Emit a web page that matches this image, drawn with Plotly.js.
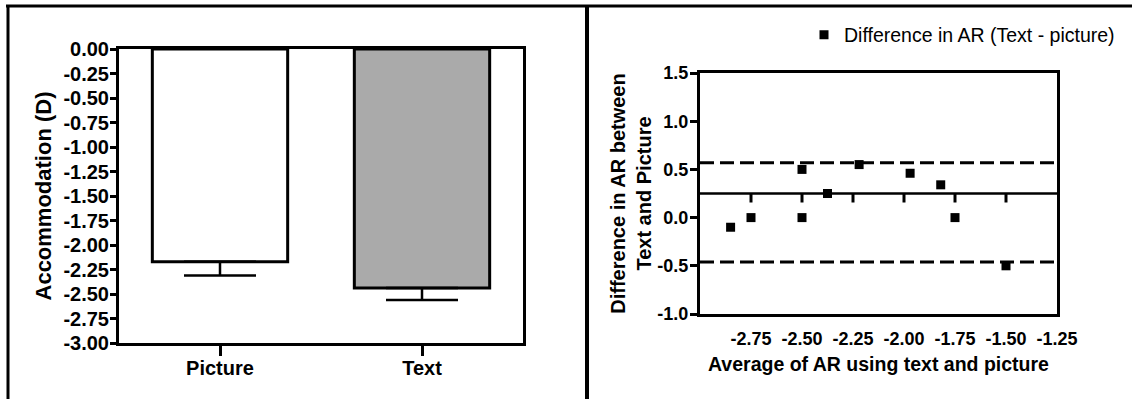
<!DOCTYPE html>
<html><head><meta charset="utf-8">
<script src="https://cdn.plot.ly/plotly-3.0.1.min.js"></script>
<style>html,body{margin:0;padding:0;background:#fff}</style>
</head><body><div id="chart" style="width:1132px;height:399px"></div>
<script>
// ---- Data: left panel (bar chart) ----
const conditions = ["Picture", "Text"];
const meanAccommodation = [-2.17, -2.44];
const semAccommodation = [0.14, 0.12];
const barColors = ["#ffffff", "#aaaaaa"];
const yTicksLeft = [0, -0.25, -0.5, -0.75, -1, -1.25, -1.5, -1.75, -2, -2.25, -2.5, -2.75, -3];

// ---- Data: right panel (Bland-Altman) ----
const avgAR = [-2.85, -2.75, -2.5, -2.5, -2.375, -2.22, -1.97, -1.82, -1.75, -1.5];
const diffAR = [-0.1, 0, 0.5, 0, 0.25, 0.55, 0.46, 0.34, 0, -0.5];
const meanDiff = 0.25;
const upperLimit = 0.57;
const lowerLimit = -0.46;
const xTicksRight = [-2.75, -2.5, -2.25, -2, -1.75, -1.5, -1.25];
const xTickMarksRight = [-2.75, -2.5, -2.25, -2, -1.75, -1.5];
const yTicksRight = [1.5, 1, 0.5, 0, -0.5, -1];

const W = 1132, H = 399;
const FONT = "Liberation Sans, Arial, sans-serif";
const px = v => v / W;
const py = v => 1 - v / H;

// right panel geometry
const y2Range = [-1, 1.5];
const y2TopPx = 73, y2BottomPx = 314;
const y2PxPerUnit = (y2BottomPx - y2TopPx) / (y2Range[1] - y2Range[0]);
const meanTickLen = 9 / y2PxPerUnit;

// tick-mark segments hanging from the mean line, built from the tick values
const tickSegX = [], tickSegY = [];
xTickMarksRight.forEach(v => {
  tickSegX.push(v, v, null);
  tickSegY.push(meanDiff, meanDiff - meanTickLen, null);
});

const traces = [
  {
    type: "bar", x: conditions, y: meanAccommodation, xaxis: "x", yaxis: "y",
    width: 0.67, showlegend: false,
    marker: { color: barColors, line: { color: "#000", width: 3 } },
    error_y: { type: "data", symmetric: false, array: [0, 0], arrayminus: semAccommodation,
               color: "#000", thickness: 2.5, width: 36 }
  },
  {
    type: "scatter", mode: "lines", x: tickSegX, y: tickSegY, connectgaps: false,
    xaxis: "x2", yaxis: "y2", showlegend: false, hoverinfo: "skip", cliponaxis: false,
    line: { color: "#000", width: 3 }
  },
  {
    type: "scatter", mode: "markers", x: avgAR, y: diffAR, xaxis: "x2", yaxis: "y2",
    name: "Difference in AR (Text - picture)",
    marker: { symbol: "square", size: 9, color: "#000" }
  }
];

const boldFont = (s) => ({ family: FONT, size: s, color: "#000", weight: "bold" });

const shapes = [
  { type: "line", xref: "x2 domain", x0: 0, x1: 1, yref: "y2", y0: meanDiff, y1: meanDiff,
    line: { color: "#000", width: 2.5 }, layer: "below" },
  { type: "line", xref: "x2 domain", x0: 0, x1: 1, yref: "y2", y0: upperLimit, y1: upperLimit,
    line: { color: "#000", width: 3, dash: "14px,6px" }, layer: "below" },
  { type: "line", xref: "x2 domain", x0: 0, x1: 1, yref: "y2", y0: lowerLimit, y1: lowerLimit,
    line: { color: "#000", width: 3, dash: "14px,6px" }, layer: "below" },
  // panel frames
  { type: "line", xref: "paper", yref: "paper", x0: px(6), x1: 1, y0: py(6), y1: py(6), line: { color: "#000", width: 3 } },
  { type: "line", xref: "paper", yref: "paper", x0: px(8), x1: px(8), y0: py(6), y1: 0, line: { color: "#000", width: 3 } },
  { type: "line", xref: "paper", yref: "paper", x0: px(587), x1: px(587), y0: py(6), y1: 0, line: { color: "#000", width: 4 } }
];

const layout = {
  width: W, height: H, autosize: false,
  margin: { l: 0, r: 0, t: 0, b: 0 },
  paper_bgcolor: "#fff", plot_bgcolor: "rgba(0,0,0,0)",
  font: { family: FONT, color: "#000" },
  bargap: 0,
  xaxis: {
    domain: [px(119), px(523)], anchor: "y", type: "category", range: [-0.5, 1.5],
    showline: true, mirror: true, linecolor: "#000", linewidth: 3,
    ticks: "outside", ticklen: 10, tickwidth: 3, tickcolor: "#000", ticklabelstandoff: -5,
    tickfont: boldFont(20), showgrid: false, zeroline: false
  },
  yaxis: {
    domain: [py(343), py(49)], anchor: "x", range: [-3, 0],
    tickvals: yTicksLeft, ticktext: yTicksLeft.map(v => v.toFixed(2)),
    showline: true, mirror: true, linecolor: "#000", linewidth: 3,
    ticks: "outside", ticklen: 6, tickwidth: 3, tickcolor: "#000", ticklabelstandoff: -3,
    tickfont: boldFont(20), showgrid: false, zeroline: false,
    title: { text: "Accommodation (D)", font: boldFont(22), standoff: 6 }
  },
  xaxis2: {
    domain: [px(700), px(1057)], anchor: "y2", range: [-3.0, -1.25],
    tickvals: xTicksRight, ticktext: xTicksRight.map(v => v.toFixed(2)),
    showline: true, mirror: true, linecolor: "#000", linewidth: 3,
    ticks: "outside", ticklen: 6, tickcolor: "rgba(0,0,0,0)",
    tickfont: boldFont(18), showgrid: false, zeroline: false,
    title: { text: "Average of AR using text and picture", font: boldFont(19.5), standoff: 10 }
  },
  yaxis2: {
    domain: [py(y2BottomPx), py(y2TopPx)], anchor: "x2", range: y2Range,
    tickvals: yTicksRight, ticktext: yTicksRight.map(v => v.toFixed(1)),
    showline: true, mirror: true, linecolor: "#000", linewidth: 3,
    ticks: "outside", ticklen: 7, tickwidth: 3, tickcolor: "#000", ticklabelstandoff: -2,
    tickfont: boldFont(18), showgrid: false, zeroline: false,
    title: { text: "Difference in AR between<br>Text and Picture", font: boldFont(20), standoff: 1 }
  },
  showlegend: true,
  legend: {
    x: px(804), y: py(35), xanchor: "left", yanchor: "middle",
    font: { family: FONT, size: 19.5, color: "#000" }, bgcolor: "rgba(0,0,0,0)"
  },
  shapes: shapes
};

Plotly.newPlot("chart", traces, layout, { staticPlot: true, displayModeBar: false });
</script>
</body></html>
